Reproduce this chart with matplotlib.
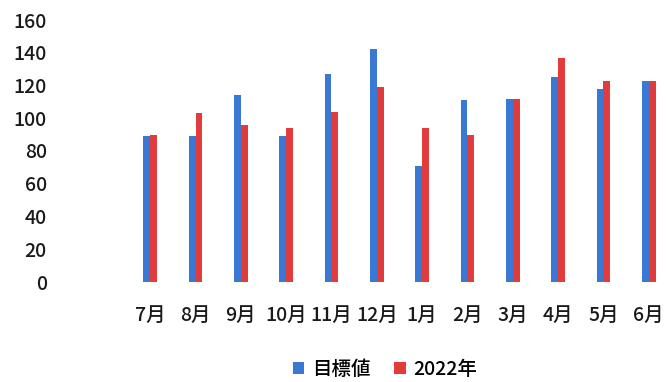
import numpy as np
import matplotlib
matplotlib.use("Agg")
import matplotlib.pyplot as plt

plt.rcParams['font.family'] = ['Noto Sans CJK JP', 'DejaVu Sans']
plt.rcParams['font.weight'] = 'medium'

# monthly figures, July to June
months = ["7月", "8月", "9月", "10月", "11月", "12月", "1月", "2月", "3月", "4月", "5月", "6月"]
target = [89, 89, 114, 89, 127, 142, 71, 111, 112, 125, 118, 123]
actual_2022 = [90, 103, 96, 94, 104, 119, 94, 90, 112, 137, 123, 123]
yticks = [0, 20, 40, 60, 80, 100, 120, 140, 160]

fig = plt.figure(figsize=(6.66, 3.82), dpi=100)
ax = fig.add_axes([55 / 666, 100 / 382, 611 / 666, 262 / 382])

x = np.arange(len(months))
w = 0.15
ax.bar(x - w / 2, target, w, color="#3a78d6", label="目標値")
ax.bar(x + w / 2, actual_2022, w, color="#e23b3c", label="2022年")

ax.set_ylim(0, 160)
ax.set_yticks(yticks)
ax.set_xlim(-2.1, 11.38)
ax.set_xticks(x)
ax.set_xticklabels(months)
ax.tick_params(axis="y", length=0, pad=6, labelsize=14, colors="#1a1a1a")
ax.tick_params(axis="x", length=0, pad=17, labelsize=14, colors="#1a1a1a")
for s in ax.spines.values():
    s.set_visible(False)

fig.legend(loc="center", bbox_to_anchor=(0.578, 0.033), ncol=2, frameon=False,
           fontsize=14, handlelength=0.6, handleheight=0.6, handletextpad=0.4,
           columnspacing=1.2)

fig.savefig("out.png", dpi=100)
